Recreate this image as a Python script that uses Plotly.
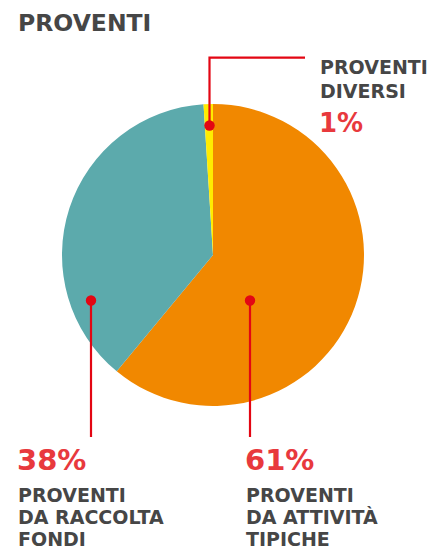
import plotly.graph_objects as go

# Income breakdown (percent)
categories = ["PROVENTI DA ATTIVITÀ TIPICHE", "PROVENTI DA RACCOLTA FONDI", "PROVENTI DIVERSI"]
values = [61, 38, 1]
colors = ["#F18800", "#5CAAAC", "#FFEC00"]

W, H = 440, 550
RED = "#E30613"
PCT_RED = "#E8393D"
GREY = "#464646"
FONT = "DejaVu Sans"

# Pie geometry in pixels
cx, cy, r = 213, 255, 151

fig = go.Figure()

fig.add_trace(go.Pie(
    labels=categories,
    values=values,
    marker=dict(colors=colors, line=dict(width=0)),
    sort=False,
    direction="clockwise",
    rotation=0,
    textinfo="none",
    hoverinfo="label+percent",
    showlegend=False,
    domain=dict(x=[(cx - r) / W, (cx + r) / W], y=[1 - (cy + r) / H, 1 - (cy - r) / H]),
))

# Callouts: label lines, value, anchor dot, leader path, text x, line y's, pct y, pct size
callouts = [
    dict(lines=["PROVENTI", "DIVERSI"], value=values[2], dot=(209.5, 125.5),
         path=[(209.5, 125.5), (209.5, 57.7), (305, 57.7)],
         tx=318, ly=[67, 90.5], py=122.5, psize=26),
    dict(lines=["PROVENTI", "DA RACCOLTA", "FONDI"], value=values[1], dot=(91, 300.5),
         path=[(91, 300.5), (91, 437)],
         tx=16, ly=[494.5, 516.7, 538.9], py=459.5, psize=29),
    dict(lines=["PROVENTI", "DA ATTIVITÀ", "TIPICHE"], value=values[0], dot=(250, 300.5),
         path=[(250, 300.5), (250, 437)],
         tx=244, ly=[494.5, 516.7, 538.9], py=459.5, psize=29),
]

annotations = [dict(
    x=17, y=23, xref="x", yref="y", xanchor="left", yanchor="middle",
    text="<b>PROVENTI</b>", showarrow=False, borderpad=0,
    font=dict(family=FONT, size=23.5, color=GREY),
)]
shapes = []
DOT_R = 5.2

for c in callouts:
    d = "M " + " L ".join(f"{x},{y}" for x, y in c["path"])
    shapes.append(dict(type="path", path=d, xref="x", yref="y",
                       line=dict(color=RED, width=2.2), layer="above"))
    dx, dy = c["dot"]
    shapes.append(dict(type="circle", xref="x", yref="y",
                       x0=dx - DOT_R, x1=dx + DOT_R, y0=dy - DOT_R, y1=dy + DOT_R,
                       fillcolor=RED, line=dict(width=0), layer="above"))
    for text, y in zip(c["lines"], c["ly"]):
        annotations.append(dict(
            x=c["tx"] + 1, y=y, xref="x", yref="y", xanchor="left", yanchor="middle",
            text=f"<b>{text}</b>", showarrow=False, borderpad=0,
            font=dict(family=FONT, size=19, color=GREY),
        ))
    annotations.append(dict(
        x=c["tx"], y=c["py"], xref="x", yref="y", xanchor="left", yanchor="middle",
        text=f"<b>{c['value']}%</b>", showarrow=False, borderpad=0,
        font=dict(family=FONT, size=c["psize"], color=PCT_RED),
    ))

fig.update_layout(
    width=W, height=H,
    margin=dict(l=0, r=0, t=0, b=0),
    paper_bgcolor="white", plot_bgcolor="rgba(0,0,0,0)",
    xaxis=dict(range=[0, W], visible=False, fixedrange=True),
    yaxis=dict(range=[H, 0], visible=False, fixedrange=True),
    shapes=shapes,
    annotations=annotations,
)

fig.write_html("out.html")
